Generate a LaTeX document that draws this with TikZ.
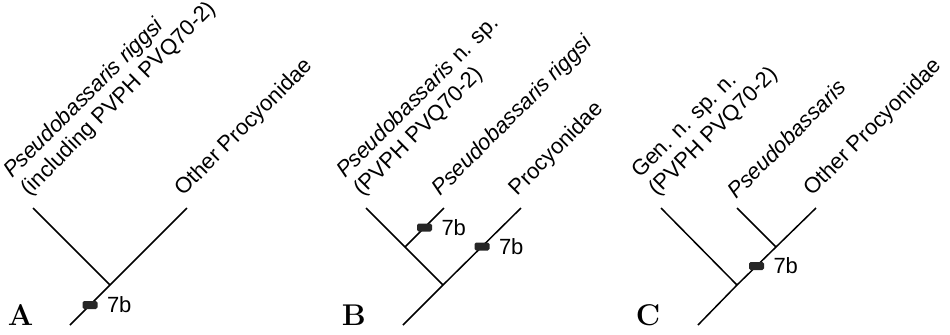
\documentclass[tikz,border=0pt]{standalone}
\usepackage{fontspec}
\setsansfont{Liberation Sans}
\usetikzlibrary{positioning,calc}

\tikzset{
taxon/.style={anchor=south west, rotate=45, inner sep=2.5pt, align=left, font=\sffamily\fontsize{11}{12.5}\selectfont},
bar/.style={rectangle, fill=black!85, rounded corners=0.8pt, minimum width=7.5pt, minimum height=4pt, inner sep=0pt},
tag/.style={inner sep=2pt, font=\sffamily\fontsize{11}{13}\selectfont},
panel/.style={anchor=base west, inner sep=0pt, font=\fontsize{15}{18}\selectfont\bfseries}
}

\begin{document}
\begin{tikzpicture}[x=0.5pt, y=-0.5pt, line width=0.75pt]
\useasboundingbox (0,0) rectangle (950,334);

\coordinate (rA) at (70,325);
\coordinate (nA) at (110,285);
\coordinate (tA1) at (33,208);
\coordinate (tA2) at (187,208);

\coordinate (rB) at (403,325);
\coordinate (nB) at (443,285);
\coordinate (mB) at (405,247);
\coordinate (tB1) at (366,208);
\coordinate (tB2) at (444,208);
\coordinate (tB3) at (521,208);

\coordinate (rC) at (698,325);
\coordinate (nC) at (737,285);
\coordinate (mC) at (776,247);
\coordinate (tC1) at (661,208);
\coordinate (tC2) at (737,208);
\coordinate (tC3) at (816,208);

\draw (rA) -- (nA) -- (tA2);
\draw (nA) -- (tA1);
\draw (rB) -- (nB) -- (tB3);
\draw (nB) -- (mB) -- (tB1);
\draw (mB) -- (tB2);
\draw (rC) -- (nC) -- (mC) -- (tC3);
\draw (nC) -- (tC1);
\draw (mC) -- (tC2);

\node (lA1) at (tA1) [taxon] {\textit{Pseudobassaris riggsi}\\(including PVPH PVQ70-2)};
\node (lA2) at (tA2) [taxon] {Other Procyonidae};
\node (lB1) at (tB1) [taxon] {\textit{Pseudobassaris} n. sp.\\(PVPH PVQ70-2)};
\node (lB2) at (tB2) [taxon] {\textit{Pseudobassaris riggsi}};
\node (lB3) at (tB3) [taxon] {Procyonidae};
\node (lC1) at (tC1) [taxon] {Gen. n. sp. n.\\(PVPH PVQ70-2)};
\node (lC2) at (tC2) [taxon] {\textit{Pseudobassaris}};
\node (lC3) at (tC3) [taxon] {Other Procyonidae};

\node (bA) at ($(rA)!.5!(nA)$) [bar] {};
\node (bB1) at ($(mB)!.5!(tB2)$) [bar] {};
\node (bB2) at ($(nB)!.5!(tB3)$) [bar] {};
\node (bC) at ($(nC)!.5!(mC)$) [bar] {};
\foreach \b in {A,B1,B2,C} {
\node (k\b) [tag, right=2pt of b\b] {7b};
}

\node (pA) at (7,325) [panel] {A};
\node (pB) at (341,325) [panel] {B};
\node (pC) at (635,325) [panel] {C};
\end{tikzpicture}
\end{document}
